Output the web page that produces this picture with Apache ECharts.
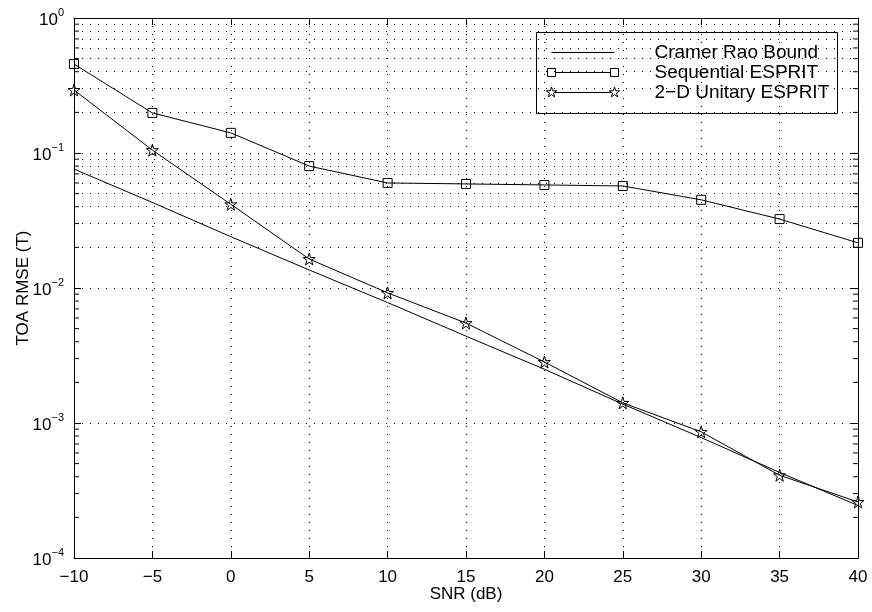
<!DOCTYPE html>
<html>
<head>
<meta charset="utf-8">
<script src="https://cdn.jsdelivr.net/npm/echarts@6/dist/echarts.min.js"></script>
<style>
  html, body { margin: 0; padding: 0; background: #fff; }
  #chart { width: 872px; height: 612px; }
</style>
</head>
<body>
<div id="chart"></div>
<script>
// SNR grid (dB)
const snr = [-10, -5, 0, 5, 10, 15, 20, 25, 30, 35, 40];

// TOA RMSE values
const crb = [0.076, 0.043, 0.024, 0.0136, 0.0078, 0.0044, 0.0025, 0.00138, 0.00078, 0.00043, 0.000245];
const seqEsprit = [0.456, 0.198, 0.141, 0.080, 0.060, 0.059, 0.058, 0.057, 0.045, 0.0324, 0.0216];
const unitaryEsprit = [0.293, 0.105, 0.0417, 0.0164, 0.0092, 0.0055, 0.00283, 0.00141, 0.00086, 0.00041, 0.00026];

// minor log grid positions 2..9 per decade
const yMinor = [];
[1e-4, 1e-3, 1e-2, 1e-1].forEach(d => {
  for (let k = 2; k <= 9; k++) yMinor.push(+(d * k).toPrecision(3));
});

const legendNames = ['Cramer Rao Bound', 'Sequential ESPRIT', '2\u2212D Unitary ESPRIT'];

const FONT = 'Liberation Sans, Arial, Helvetica, sans-serif';
const STAR = 'path://M50,0 L61.2,34.5 L97.6,34.5 L68.2,55.9 L79.4,90.5 L50,69.1 L20.6,90.5 L31.8,55.9 L2.4,34.5 L38.8,34.5 Z';
const STAR_PTS = [[0,-1],[0.225,-0.309],[0.951,-0.309],[0.363,0.118],[0.588,0.809],[0,0.382],[-0.588,0.809],[-0.363,0.118],[-0.951,-0.309],[-0.225,-0.309]];
const dotted = { color: '#000', width: 1, type: [1, 7] };

const pairs = ys => snr.map((x, i) => [x, ys[i]]);

function expLabel(v) {
  const e = Math.round(Math.log10(v));
  return '{b|10}{s|' + String(e).replace('-', '\u2212') + '}';
}

const chart = echarts.init(document.getElementById('chart'));

const baseX = {
  type: 'value', min: -10, max: 40, interval: 5,
  axisLine: { show: true, onZero: false, lineStyle: { color: '#000', width: 1 } },
  axisTick: { show: true, inside: true, length: 7, lineStyle: { color: '#000' } },
  splitLine: { show: false }
};
const baseY = {
  type: 'log', logBase: 10, min: 1e-4, max: 1,
  axisLine: { show: true, onZero: false, lineStyle: { color: '#000', width: 1 } },
  axisTick: { show: true, inside: true, length: 7, lineStyle: { color: '#000' } },
  splitLine: { show: false }
};

chart.setOption({
  animation: false,
  backgroundColor: '#fff',
  textStyle: { fontFamily: FONT },
  grid: { left: 74, top: 18, right: 14, bottom: 54, containLabel: false, outerBoundsMode: 'none' },
  xAxis: [
    Object.assign({}, baseX, {
      position: 'bottom',
      name: 'SNR (dB)', nameLocation: 'middle', nameGap: 28, nameMoveOverlap: false,
      nameTextStyle: { color: '#000', fontSize: 17, fontFamily: FONT },
      axisLabel: {
        color: '#000', fontSize: 17, fontFamily: FONT, margin: 11,
        formatter: v => String(v).replace('-', '\u2212')
      },
      splitLine: { show: true, lineStyle: dotted }
    }),
    Object.assign({}, baseX, { position: 'top', axisLabel: { show: false } })
  ],
  yAxis: [
    Object.assign({}, baseY, {
      position: 'left',
      name: 'TOA RMSE (T)', nameLocation: 'middle', nameGap: 42, nameMoveOverlap: false,
      nameTextStyle: { color: '#000', fontSize: 17, fontFamily: FONT },
      axisLabel: {
        color: '#000', margin: 10,
        formatter: expLabel,
        rich: {
          b: { fontSize: 17, fontFamily: FONT, color: '#000', verticalAlign: 'bottom', padding: [5, 0, 0, 0] },
          s: { fontSize: 11, fontFamily: FONT, color: '#000', verticalAlign: 'top' }
        }
      },
      splitLine: { show: true, lineStyle: dotted }
    }),
    Object.assign({}, baseY, { position: 'right', axisLabel: { show: false } })
  ],
  series: [
    {
      // minor log grid lines
      type: 'line', data: [], silent: true,
      markLine: {
        silent: true, symbol: 'none', label: { show: false },
        lineStyle: dotted,
        data: yMinor.map(v => ({ yAxis: v }))
      }
    },
    {
      // minor log ticks on left and right axes
      type: 'custom', silent: true, z: 4,
      data: yMinor.map(v => [-10, v]),
      renderItem: (params, api) => {
        const l = api.coord([-10, api.value(1)]);
        const r = api.coord([40, api.value(1)]);
        const st = { stroke: '#000', lineWidth: 1 };
        return {
          type: 'group',
          children: [
            { type: 'line', shape: { x1: l[0], y1: l[1], x2: l[0] + 5, y2: l[1] }, style: st },
            { type: 'line', shape: { x1: r[0] - 5, y1: r[1], x2: r[0], y2: r[1] }, style: st }
          ]
        };
      }
    },
    {
      name: legendNames[0], type: 'line', data: pairs(crb),
      showSymbol: false, symbol: 'none',
      lineStyle: { color: '#000', width: 1 }, z: 5
    },
    {
      name: legendNames[1], type: 'line', data: pairs(seqEsprit),
      symbol: 'rect', symbolSize: 9,
      lineStyle: { color: '#000', width: 1 },
      itemStyle: { color: 'rgba(255,255,255,0)', borderColor: '#000', borderWidth: 1 }, z: 5
    },
    {
      name: legendNames[2], type: 'line', data: pairs(unitaryEsprit),
      symbol: STAR, symbolSize: 12,
      lineStyle: { color: '#000', width: 1 },
      itemStyle: { color: 'rgba(255,255,255,0)', borderColor: '#000', borderWidth: 1 }, z: 5
    }
  ],
  graphic: [
    {
      type: 'group', left: 536, top: 32, z: 100,
      children: [
        { type: 'rect', shape: { x: 0, y: 0, width: 301, height: 81 },
          style: { fill: '#fff', stroke: '#000', lineWidth: 1 } },
        { type: 'line', shape: { x1: 15, y1: 20, x2: 78, y2: 20 }, style: { stroke: '#000', lineWidth: 1 } },
        { type: 'line', shape: { x1: 15, y1: 40, x2: 78, y2: 40 }, style: { stroke: '#000', lineWidth: 1 } },
        { type: 'rect', shape: { x: 11, y: 36, width: 8, height: 8 }, style: { fill: '#fff', stroke: '#000', lineWidth: 1 } },
        { type: 'rect', shape: { x: 74, y: 36, width: 8, height: 8 }, style: { fill: '#fff', stroke: '#000', lineWidth: 1 } },
        { type: 'line', shape: { x1: 15, y1: 60, x2: 78, y2: 60 }, style: { stroke: '#000', lineWidth: 1 } },
        { type: 'polygon', x: 15, y: 60, scaleX: 5.5, scaleY: 5.5,
          shape: { points: STAR_PTS }, style: { fill: '#fff', stroke: '#000', lineWidth: 1 / 5.5 } },
        { type: 'polygon', x: 78, y: 60, scaleX: 5.5, scaleY: 5.5,
          shape: { points: STAR_PTS }, style: { fill: '#fff', stroke: '#000', lineWidth: 1 / 5.5 } },
        { type: 'text', x: 118, y: 20, style: { text: legendNames[0], fill: '#000', font: '19px ' + FONT, textVerticalAlign: 'middle' } },
        { type: 'text', x: 118, y: 40, style: { text: legendNames[1], fill: '#000', font: '19px ' + FONT, textVerticalAlign: 'middle' } },
        { type: 'text', x: 118, y: 60, style: { text: legendNames[2], fill: '#000', font: '19px ' + FONT, textVerticalAlign: 'middle' } }
      ]
    }
  ]
});
</script>
</body>
</html>
